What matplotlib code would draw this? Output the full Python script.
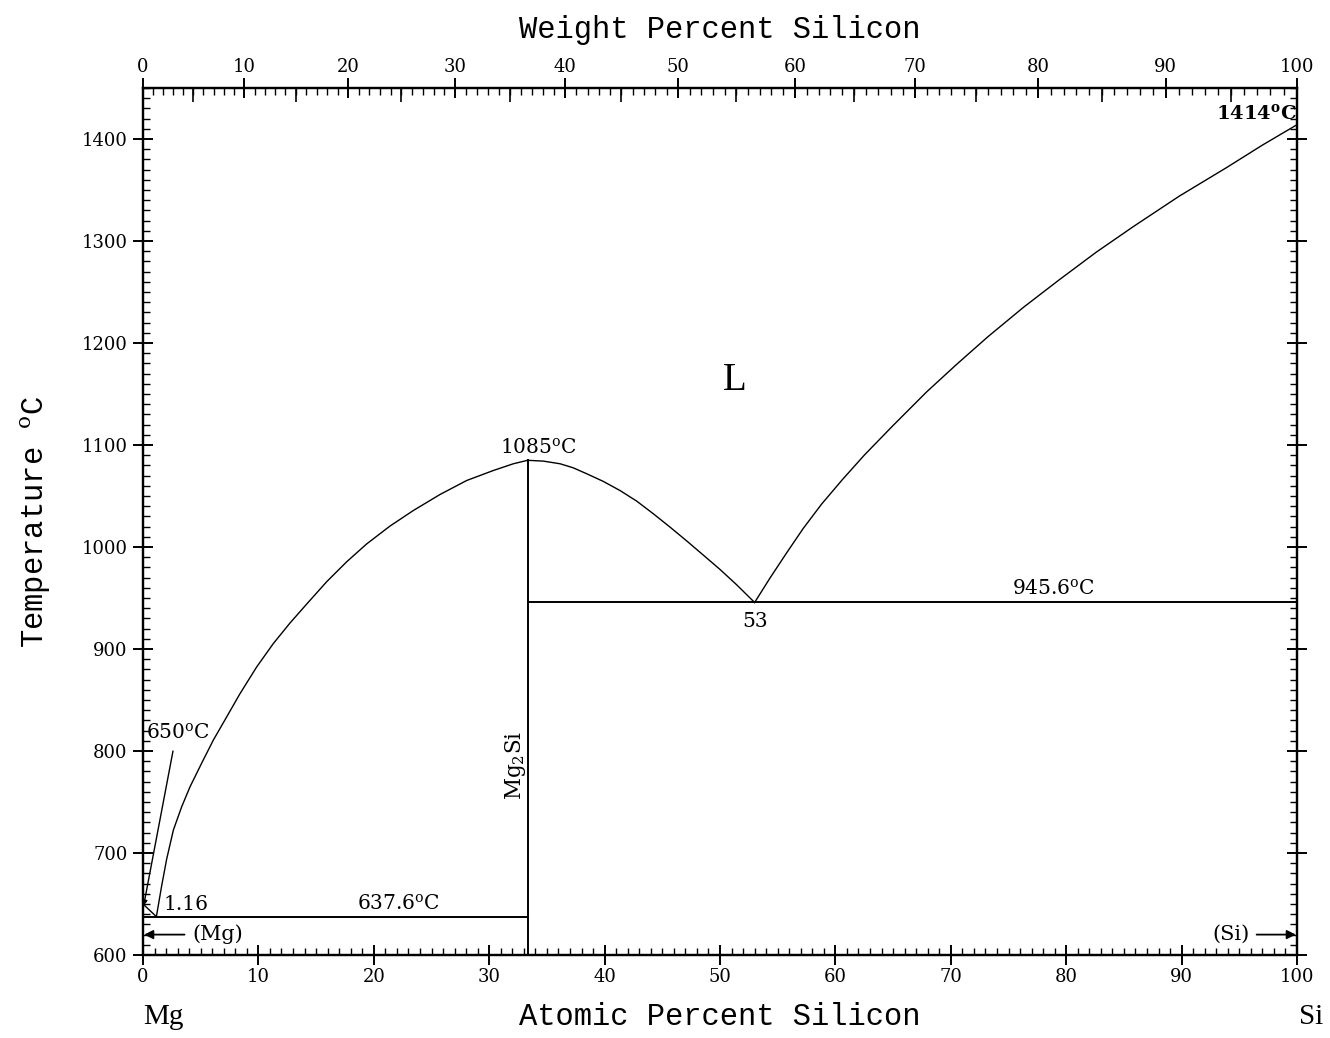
import matplotlib
matplotlib.use("Agg")
import matplotlib.pyplot as plt
import numpy as np
from matplotlib.ticker import MultipleLocator, FixedLocator

plt.rcParams['mathtext.fontset'] = 'custom'
plt.rcParams['mathtext.rm'] = 'DejaVu Serif'
plt.rcParams['mathtext.it'] = 'DejaVu Serif:italic'
plt.rcParams['mathtext.bf'] = 'DejaVu Serif:bold'

# ---- data (atomic % Si, temperature degC) ----
left_liq_at = [1.16, 1.62, 2.05, 2.63, 3.35, 4.07, 5.08, 6.09, 7.25, 8.41, 9.85, 11.29,
               12.74, 14.18, 15.92, 17.65, 19.38, 21.40, 23.43, 25.74, 28.05, 30.36,
               32.09, 33.33]
left_liq_T = [637.6, 668.0, 694.0, 722.4, 745.3, 764.8, 788.0, 810.6, 833.4, 856.3, 882.4,
              905.3, 925.5, 944.0, 966.0, 985.5, 1003.0, 1020.5, 1035.8, 1051.5, 1065.2,
              1075.0, 1081.6, 1085]
mid_liq_at = [33.33, 34.69, 36.14, 37.29, 38.45, 39.89, 41.33, 42.78, 44.22, 45.67, 47.11,
              48.56, 50.0, 51.44, 53.0]
mid_liq_T = [1085, 1084.2, 1081.6, 1077.6, 1071.8, 1064.3, 1055.4, 1045.0, 1032.6, 1019.5,
             1006.0, 992.0, 978.0, 963.0, 945.6]
right_liq_at = [53.0, 54.3, 55.7, 57.2, 58.8, 60.6, 62.5, 64.9, 67.9, 70.5, 73.2, 76.3,
                79.4, 82.6, 85.8, 89.8, 93.9, 97.0, 100]
right_liq_T = [945.6, 969, 993, 1018, 1042, 1066, 1090, 1118, 1152, 1179, 1206, 1235,
               1262, 1289, 1314, 1344, 1372, 1394, 1414]
mg_liq_at = [0, 1.16]
mg_liq_T = [650, 637.6]
eut1_at = [0, 33.33]
eut1_T = 637.6
eut2_at = [33.33, 100]
eut2_T = 945.6
mg2si_at = 33.33
mg2si_T = [600, 1085]

bottom_ticks = list(range(0, 101, 10))
left_ticks = list(range(600, 1401, 100))
top_wt_ticks = list(range(0, 101, 10))

M_MG, M_SI = 24.305, 28.0855


def wt_to_at(w):
    w = np.asarray(w, dtype=float)
    si = w / M_SI
    mg = (100 - w) / M_MG
    return 100 * si / (si + mg)


SERIF = 'DejaVu Serif'
MONO = 'Liberation Mono'

fig = plt.figure(figsize=(13.3, 10.38), dpi=100)
ax = fig.add_axes([143 / 1330, 1 - 955 / 1038, (1297 - 143) / 1330, (955 - 88) / 1038])
ax.set_xlim(0, 100)
ax.set_ylim(600, 1450)

lw = 1.0
ax.plot(left_liq_at, left_liq_T, color='black', lw=lw)
ax.plot(mid_liq_at, mid_liq_T, color='black', lw=lw)
ax.plot(right_liq_at, right_liq_T, color='black', lw=lw)
ax.plot(mg_liq_at, mg_liq_T, color='black', lw=lw)
ax.plot(eut1_at, [eut1_T, eut1_T], color='black', lw=1.4)
ax.plot(eut2_at, [eut2_T, eut2_T], color='black', lw=1.4)
ax.plot([mg2si_at, mg2si_at], mg2si_T, color='black', lw=1.4)

# axes styling
for s in ax.spines.values():
    s.set_linewidth(1.6)
ax.xaxis.set_major_locator(FixedLocator(bottom_ticks))
ax.xaxis.set_minor_locator(MultipleLocator(1))
ax.yaxis.set_major_locator(FixedLocator(left_ticks))
ax.yaxis.set_minor_locator(MultipleLocator(10))
ax.tick_params(which='major', direction='inout', length=14, width=1.4,
               top=False, right=True, labelsize=13)
ax.tick_params(which='minor', direction='in', length=5, width=1.0,
               top=False, right=True)
for lab in ax.get_xticklabels() + ax.get_yticklabels():
    lab.set_fontfamily(SERIF)
ax.tick_params(axis='x', pad=2)
ax.tick_params(axis='y', pad=4)

# top axis: weight percent
axt = ax.twiny()
axt.set_xlim(0, 100)
axt.xaxis.set_major_locator(FixedLocator(wt_to_at(top_wt_ticks)))
axt.set_xticklabels([str(v) for v in top_wt_ticks], fontfamily=SERIF, fontsize=13)
axt.xaxis.set_minor_locator(FixedLocator(wt_to_at(np.arange(0, 101, 1))))
axt.tick_params(which='major', direction='inout', length=14, width=1.4, labelsize=13, pad=2)
axt.tick_params(which='minor', direction='in', length=5, width=1.0)
for s in axt.spines.values():
    s.set_linewidth(1.6)

# medium ticks at every 5 wt%
axt5 = ax.twiny()
axt5.set_xlim(0, 100)
axt5.xaxis.set_major_locator(FixedLocator(wt_to_at(np.arange(5, 100, 10))))
axt5.xaxis.set_minor_locator(FixedLocator([]))
axt5.tick_params(which='major', direction='in', length=10, width=1.2, labeltop=False)
axt5.set_xticklabels([])
for s in axt5.spines.values():
    s.set_visible(False)

axt.set_xlabel('Weight Percent Silicon', fontfamily=MONO, fontsize=22, labelpad=14)
ax.set_xlabel('Atomic Percent Silicon', fontfamily=MONO, fontsize=22, labelpad=12)
ax.set_ylabel(r'Temperature $^{\mathrm{o}}$C', fontfamily=MONO, fontsize=22, labelpad=21)

# element labels
ax.text(1.8, 539, 'Mg', fontfamily='Liberation Serif', fontsize=21, ha='center', va='center')
ax.text(101.2, 539, 'Si', fontfamily='Liberation Serif', fontsize=21, ha='center', va='center')

# annotations
fs = 14.5
ax.text(51.3, 1163, 'L', fontfamily='Liberation Serif', fontsize=28, ha='center', va='center')
ax.text(100, 1416, r'$\mathbf{1414^{o}C}$', fontfamily=SERIF, fontsize=14,
        ha='right', va='bottom')
ax.text(34.3, 1088, r'1085$^{\mathrm{o}}$C', fontfamily=SERIF, fontsize=fs,
        ha='center', va='bottom')
ax.text(78.9, 949, r'945.6$^{\mathrm{o}}$C', fontfamily=SERIF, fontsize=fs,
        ha='center', va='bottom')
ax.text(53.0, 936, '53', fontfamily=SERIF, fontsize=fs, ha='center', va='top')
ax.text(22.1, 640, r'637.6$^{\mathrm{o}}$C', fontfamily=SERIF, fontsize=fs,
        ha='center', va='bottom')
ax.text(1.8, 640, '1.16', fontfamily=SERIF, fontsize=fs, ha='left', va='bottom')
ax.text(0.3, 808, r'650$^{\mathrm{o}}$C', fontfamily=SERIF, fontsize=fs,
        ha='left', va='bottom')
ax.text(32.3, 786, r'Mg$_2$Si', fontfamily=SERIF, fontsize=15.5, rotation=90,
        ha='center', va='center')

# leader line to Mg melting point
ax.annotate('', xy=(0.05, 648), xytext=(2.6, 800),
            arrowprops=dict(arrowstyle='-|>', color='black', lw=1.0,
                            mutation_scale=8, shrinkA=0, shrinkB=0))
# (Mg) and (Si) arrows
ax.annotate('', xy=(0.1, 620), xytext=(3.6, 620),
            arrowprops=dict(arrowstyle='-|>', color='black', lw=1.3,
                            mutation_scale=13, shrinkA=0, shrinkB=0))
ax.text(4.3, 620, '(Mg)', fontfamily=SERIF, fontsize=15, ha='left', va='center')
ax.annotate('', xy=(99.9, 620), xytext=(96.5, 620),
            arrowprops=dict(arrowstyle='-|>', color='black', lw=1.3,
                            mutation_scale=13, shrinkA=0, shrinkB=0))
ax.text(95.9, 620, '(Si)', fontfamily=SERIF, fontsize=15, ha='right', va='center')

fig.savefig('out.png', dpi=100)
